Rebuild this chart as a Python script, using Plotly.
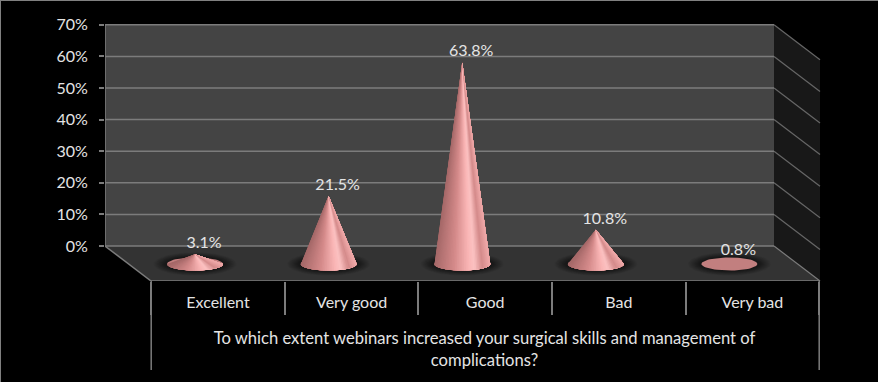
import numpy as np
import plotly.graph_objects as go

categories = ["Excellent", "Very good", "Good", "Bad", "Very bad"]
values = [3.1, 21.5, 63.8, 10.8, 0.8]
value_labels = ["3.1%", "21.5%", "63.8%", "10.8%", "0.8%"]
y_ticks = [0, 10, 20, 30, 40, 50, 60, 70]
y_tick_labels = ["0%", "10%", "20%", "30%", "40%", "50%", "60%", "70%"]
axis_question = "To which extent webinars increased your surgical skills and management of<br>complications?"

W, H = 878, 382
LEFT, RIGHT, PLOT_BOTTOM = 105, 864, 281
X0_PX, X_UNIT = 195.0, 133.6
Y0_PX, Y_UNIT = 246.0, 3.16
xr = [(LEFT - X0_PX) / X_UNIT, (RIGHT - X0_PX) / X_UNIT]
yr = [(Y0_PX - PLOT_BOTTOM) / Y_UNIT, Y0_PX / Y_UNIT]

def px_w(p):
    return p / X_UNIT
def px_h(p):
    return p / Y_UNIT

wall_right = (774 - X0_PX) / X_UNIT
wall_left = xr[0]
dx, dy = px_w(46), px_h(35)
base_drop = px_h(18)
rx, ry = px_w(28), px_h(6.5)
TEXT = "#e4e4e4"
GRID = "#7c7c7c"
FONT = "Lato"

fig = go.Figure()
shapes = []

def poly(xs, ys, color, opacity=1.0):
    fig.add_trace(go.Scatter(x=list(xs), y=list(ys), mode="lines", fill="toself",
                             fillcolor=color, opacity=opacity, line=dict(width=0, color=color),
                             hoverinfo="skip", showlegend=False))

# walls and floor
top = y_ticks[-1]
poly([wall_left, wall_right, wall_right, wall_left], [0, 0, top, top], "#444444")
poly([wall_right, wall_right + dx, wall_right + dx, wall_right], [0, -dy, top - dy, top], "#181818")
poly([wall_left, wall_right, wall_right + dx, wall_left + dx], [0, 0, -dy, -dy], "#333333")

def line(x0, y0, x1, y1, color=GRID, width=1.5):
    fig.add_trace(go.Scatter(x=[x0, x1], y=[y0, y1], mode="lines",
                             line=dict(color=color, width=width),
                             hoverinfo="skip", showlegend=False))

for t in y_ticks:
    line(wall_left, t, wall_right, t)
    line(wall_right, t, wall_right + dx, t - dy, "#666666" if t else GRID, 1.2)
line(wall_left, 0, wall_left, top)
line(wall_left, 0, wall_left + dx, -dy)
line(wall_left + dx, -dy, wall_right + dx, -dy)

theta = np.linspace(0, 2 * np.pi, 60)
stops = [(0.0, (165, 104, 104)), (0.35, (212, 138, 138)), (0.62, (250, 182, 182)),
         (0.72, (252, 194, 194)), (0.86, (212, 138, 138)), (1.0, (240, 170, 170))]

def shade(f):
    pos = [s[0] for s in stops]
    rgb = [int(np.interp(f, pos, [s[1][i] for s in stops])) for i in range(3)]
    return "rgb(%d,%d,%d)" % tuple(rgb)

for i, v in enumerate(values):
    yb = -base_drop
    # soft shadow on the floor
    for k in range(16, 0, -1):
        sx = 1 + k * 0.03
        sy = 1 + k * 0.05
        poly(i + rx * sx * np.cos(theta), yb + ry * sy * np.sin(theta), "rgba(0,0,0,0.035)")
    tip = yb + v
    poly(i + rx * np.cos(theta), yb + ry * np.sin(theta), "#c27f7f")
    if v > px_h(8):
        n = 48
        edges = np.linspace(np.pi, 2 * np.pi, n + 1)
        # painted left to right, each one covering the rest of the cone, so no seams show
        for a0, a1 in zip(edges[:-1], edges[1:]):
            f = (np.cos((a0 + a1) / 2) + 1) / 2
            arc = np.linspace(a0, 2 * np.pi, 24)
            poly([i] + list(i + rx * np.cos(arc)) + [i],
                 [tip] + list(yb + ry * np.sin(arc)) + [tip], shade(f))

# value labels sit just above the tips
fig.add_trace(go.Scatter(
    x=[i + px_w(9) for i in range(len(values))],
    y=[-base_drop + v + px_h(10) for v in values],
    mode="text", text=value_labels, textfont=dict(family=FONT, size=16, color=TEXT),
    hoverinfo="skip", showlegend=False, cliponaxis=False))

# outer tall separators and picture frame
sep = [j - 0.5 + px_w(23) for j in range(len(categories) + 1)]
for xv in (sep[0], sep[-1]):
    shapes.append(dict(type="line", xref="x", yref="paper", x0=xv, x1=xv,
                       y0=-(370 - PLOT_BOTTOM) / PLOT_BOTTOM, y1=0, line=dict(color=GRID, width=1.5)))
fx0, fx1 = -LEFT / (RIGHT - LEFT), (W - LEFT) / (RIGHT - LEFT)
shapes.append(dict(type="line", xref="paper", yref="paper", x0=fx0, x1=fx1, y0=1, y1=1,
                   line=dict(color="#808080", width=2)))
shapes.append(dict(type="line", xref="paper", yref="paper", x0=fx0, x1=fx0, y0=1,
                   y1=-(H - PLOT_BOTTOM) / PLOT_BOTTOM, line=dict(color="#808080", width=2)))

fig.update_layout(
    width=W, height=H, autosize=False,
    margin=dict(l=LEFT, r=W - RIGHT, t=0, b=H - PLOT_BOTTOM, pad=0),
    paper_bgcolor="#000000", plot_bgcolor="#000000",
    font=dict(family=FONT, size=16, color=TEXT),
    shapes=shapes,
    showlegend=False,
    xaxis=dict(range=xr, showgrid=False, zeroline=False, showline=False,
               tickmode="array", tickvals=[j + px_w(23) for j in range(len(categories))],
               ticktext=categories, ticks="", ticklen=0, ticklabelstandoff=10,
               tickfont=dict(family=FONT, size=16, color=TEXT),
               minor=dict(tickmode="array", tickvals=sep, ticks="outside", ticklen=33,
                          tickcolor=GRID, tickwidth=1.5),
               title=dict(text=axis_question, font=dict(family=FONT, size=16.6, color=TEXT), standoff=22)),
    yaxis=dict(range=yr, showgrid=False, zeroline=False, showline=False,
               tickmode="array", tickvals=y_ticks, ticktext=y_tick_labels, ticks="outside",
               ticklen=5, tickwidth=1.5, tickcolor=GRID, ticklabelstandoff=8,
               tickfont=dict(family=FONT, size=16, color=TEXT)),
)
fig.write_html("out.html", config={"displayModeBar": False},
               post_script="document.body.style.margin='0';document.body.style.background='#000';")
